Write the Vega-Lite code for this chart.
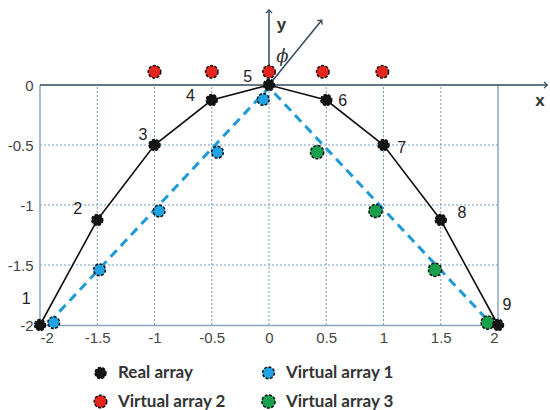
{
  "$schema": "https://vega.github.io/schema/vega-lite/v6.json",
  "width": 458,
  "height": 318,
  "autosize": {"type": "none"},
  "padding": {"left": 40, "top": 7, "right": 52, "bottom": 85},
  "background": "white",
  "config": {"view": {"stroke": null}},
  "datasets": {
    "grid": [
      {"x": -1.5, "x2": -1.5, "y": -2, "y2": 0},
      {"x": -1, "x2": -1, "y": -2, "y2": 0},
      {"x": -0.5, "x2": -0.5, "y": -2, "y2": 0},
      {"x": 0, "x2": 0, "y": -2, "y2": 0},
      {"x": 0.5, "x2": 0.5, "y": -2, "y2": 0},
      {"x": 1, "x2": 1, "y": -2, "y2": 0},
      {"x": 1.5, "x2": 1.5, "y": -2, "y2": 0},
      {"x": -2, "x2": 2, "y": -0.5, "y2": -0.5},
      {"x": -2, "x2": 2, "y": -1, "y2": -1},
      {"x": -2, "x2": 2, "y": -1.5, "y2": -1.5}
    ],
    "frame": [
      {"x": -2, "x2": -2, "y": -2, "y2": 0},
      {"x": 2, "x2": 2, "y": -2, "y2": 0}
    ],
    "arrows": [
      {"x": -2, "x2": 2.43, "y": 0, "y2": 0},
      {"x": 0, "x2": 0, "y": 0, "y2": 0.625},
      {"x": 0, "x2": 0.46, "y": 0, "y2": 0.54}
    ],
    "dashed": [
      {"x": -1.92, "y": -1.98},
      {"x": 0, "y": -0.02},
      {"x": 1.93, "y": -1.98}
    ],
    "points": [
      {"series": "Virtual array 2", "x": -1, "y": 0.11},
      {"series": "Virtual array 2", "x": -0.5, "y": 0.11},
      {"series": "Virtual array 2", "x": 0, "y": 0.11},
      {"series": "Virtual array 2", "x": 0.47, "y": 0.11},
      {"series": "Virtual array 2", "x": 0.99, "y": 0.11},
      {"series": "Virtual array 1", "x": -1.88, "y": -1.98},
      {"series": "Virtual array 1", "x": -1.48, "y": -1.54},
      {"series": "Virtual array 1", "x": -0.96, "y": -1.05},
      {"series": "Virtual array 1", "x": -0.45, "y": -0.56},
      {"series": "Virtual array 1", "x": -0.05, "y": -0.12},
      {"series": "Virtual array 3", "x": 0.42, "y": -0.56},
      {"series": "Virtual array 3", "x": 0.93, "y": -1.05},
      {"series": "Virtual array 3", "x": 1.45, "y": -1.54},
      {"series": "Virtual array 3", "x": 1.91, "y": -1.98},
      {"series": "Real array", "x": -2, "y": -2},
      {"series": "Real array", "x": -1.5, "y": -1.125},
      {"series": "Real array", "x": -1, "y": -0.5},
      {"series": "Real array", "x": -0.5, "y": -0.125},
      {"series": "Real array", "x": 0, "y": 0},
      {"series": "Real array", "x": 0.5, "y": -0.125},
      {"series": "Real array", "x": 1, "y": -0.5},
      {"series": "Real array", "x": 1.5, "y": -1.125},
      {"series": "Real array", "x": 2, "y": -2}
    ],
    "real": [
      {"x": -2, "y": -2, "label": "1", "lx": -2.12, "ly": -1.78},
      {"x": -1.5, "y": -1.125, "label": "2", "lx": -1.67, "ly": -1.03},
      {"x": -1, "y": -0.5, "label": "3", "lx": -1.1, "ly": -0.42},
      {"x": -0.5, "y": -0.125, "label": "4", "lx": -0.685, "ly": -0.09},
      {"x": 0, "y": 0, "label": "5", "lx": -0.186, "ly": 0.067},
      {"x": 0.5, "y": -0.125, "label": "6", "lx": 0.644, "ly": -0.133},
      {"x": 1, "y": -0.5, "label": "7", "lx": 1.16, "ly": -0.525},
      {"x": 1.5, "y": -1.125, "label": "8", "lx": 1.685, "ly": -1.067},
      {"x": 2, "y": -2, "label": "9", "lx": 2.078, "ly": -1.833}
    ],
    "axislabels": [
      {"x": 2.366, "y": -0.133, "t": "x"},
      {"x": 0.11, "y": 0.5, "t": "y"}
    ],
    "phi": [
      {"x": 0.117, "y": 0.233, "t": "ϕ"}
    ],
    "tipY": [{"x": 0, "y": 0.625}],
    "tipX": [{"x": 2.43, "y": 0}],
    "tipPhi": [{"x": 0.46, "y": 0.54}]
  },
  "encoding": {
    "x": {
      "field": "x", "type": "quantitative",
      "scale": {"domain": [-2, 2], "nice": false, "zero": false}
    },
    "y": {
      "field": "y", "type": "quantitative",
      "scale": {"domain": [-2, 0.65], "nice": false, "zero": false}
    }
  },
  "layer": [
    {
      "data": {"name": "grid"},
      "mark": {"type": "rule", "stroke": "#6f9cc4", "strokeWidth": 1, "strokeDash": [2, 2]},
      "encoding": {
        "x": {"field": "x", "type": "quantitative",
          "axis": {"values": [-2, -1.5, -1, -0.5, 0, 0.5, 1, 1.5, 2], "title": null, "grid": false, "ticks": false,
            "domainColor": "#8ba6ba", "domainWidth": 1.5, "labelFont": "Liberation Sans", "labelFontSize": 15,
            "labelColor": "#444", "labelPadding": 5, "labelExpr": "'' + datum.value"}},
        "x2": {"field": "x2"},
        "y": {"field": "y", "type": "quantitative",
          "axis": {"values": [-2, -1.5, -1, -0.5, 0], "title": null, "grid": false, "ticks": false, "domain": false,
            "labelFont": "Liberation Sans", "labelFontSize": 15, "labelColor": "#444", "labelPadding": 7,
            "labelExpr": "'' + datum.value"}},
        "y2": {"field": "y2"}
      }
    },
    {
      "data": {"name": "frame"},
      "mark": {"type": "rule", "stroke": "#8ba6ba", "strokeWidth": 1.5},
      "encoding": {"x2": {"field": "x2"}, "y2": {"field": "y2"}}
    },
    {
      "data": {"name": "arrows"},
      "mark": {"type": "rule", "stroke": "#34495a", "strokeWidth": 1.5},
      "encoding": {"x2": {"field": "x2"}, "y2": {"field": "y2"}}
    },
    {
      "data": {"name": "tipY"},
      "mark": {"type": "point", "shape": "M-1,1L0,0L1,1", "filled": false, "stroke": "#34495a", "strokeWidth": 1.3, "size": 40, "angle": 0, "opacity": 1},
      "encoding": {}
    },
    {
      "data": {"name": "tipX"},
      "mark": {"type": "point", "shape": "M-1,1L0,0L1,1", "filled": false, "stroke": "#34495a", "strokeWidth": 1.3, "size": 40, "angle": 90, "opacity": 1},
      "encoding": {}
    },
    {
      "data": {"name": "tipPhi"},
      "mark": {"type": "point", "shape": "M-1,1L0,0L1,1", "filled": false, "stroke": "#34495a", "strokeWidth": 1.3, "size": 40, "angle": 39, "opacity": 1},
      "encoding": {}
    },
    {
      "data": {"name": "dashed"},
      "mark": {"type": "line", "stroke": "#1e9ad6", "strokeWidth": 3, "strokeDash": [9, 6]},
      "encoding": {}
    },
    {
      "data": {"name": "real"},
      "mark": {"type": "line", "stroke": "#111", "strokeWidth": 1.6},
      "encoding": {}
    },
    {
      "data": {"name": "points"},
      "mark": {"type": "point", "filled": true, "opacity": 1, "stroke": "#111", "strokeWidth": 1.5, "strokeDash": [3, 1.5]},
      "encoding": {
        "size": {
          "field": "series", "type": "nominal",
          "scale": {
            "domain": ["Real array", "Virtual array 1", "Virtual array 2", "Virtual array 3"],
            "range": [120, 175, 175, 175]
          },
          "legend": null
        },
        "color": {
          "field": "series", "type": "nominal",
          "scale": {
            "domain": ["Real array", "Virtual array 1", "Virtual array 2", "Virtual array 3"],
            "range": ["#151515", "#1fa3e3", "#e5261e", "#19a04c"]
          },
          "legend": {
            "title": null, "orient": "none", "direction": "horizontal", "columns": 2,
            "legendX": 52, "legendY": 357, "columnPadding": 32, "rowPadding": 9,
            "symbolSize": 160, "symbolType": "circle", "symbolStrokeColor": "#111", "symbolStrokeWidth": 1.5,
            "symbolDash": [3, 1.5], "symbolOpacity": 1,
            "labelFont": "Lato", "labelFontWeight": "bold", "labelFontSize": 17, "labelColor": "#333",
            "labelOffset": 9
          }
        }
      }
    },
    {
      "data": {"name": "real"},
      "mark": {"type": "text", "font": "Liberation Sans", "fontSize": 16, "color": "#222", "align": "center", "baseline": "middle"},
      "encoding": {
        "x": {"field": "lx", "type": "quantitative"},
        "y": {"field": "ly", "type": "quantitative"},
        "text": {"field": "label"}
      }
    },
    {
      "data": {"name": "axislabels"},
      "mark": {"type": "text", "font": "Liberation Sans", "fontSize": 17, "fontWeight": "bold", "color": "#333", "align": "center", "baseline": "middle"},
      "encoding": {"text": {"field": "t"}}
    },
    {
      "data": {"name": "phi"},
      "mark": {"type": "text", "font": "DejaVu Serif", "fontSize": 18, "fontStyle": "italic", "color": "#333", "align": "center", "baseline": "middle"},
      "encoding": {"text": {"field": "t"}}
    }
  ]
}
